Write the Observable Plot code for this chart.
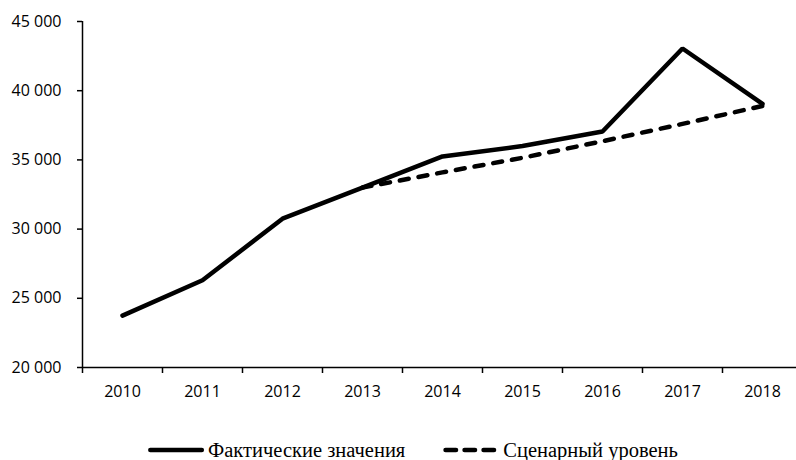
<!DOCTYPE html>
<html>
<head>
<meta charset="utf-8">
<script src="https://cdn.jsdelivr.net/npm/d3@7"></script>
<script src="https://cdn.jsdelivr.net/npm/@observablehq/plot@0.6"></script>
<style>
  html, body { margin: 0; padding: 0; background: #fff; }
  #chart svg, #legend svg { display: block; }
</style>
</head>
<body>
<div id="chart"></div>
<div id="legend"></div>
<script>
// Годы наблюдений
const years = [2010, 2011, 2012, 2013, 2014, 2015, 2016, 2017, 2018];
// Фактические значения
const actual = [23750, 26300, 30750, 33000, 35250, 36000, 37050, 43050, 39050];
// Сценарный уровень (с 2013 года)
const scenarioYears = [2013, 2014, 2015, 2016, 2017, 2018];
const scenario = [33000, 34100, 35150, 36350, 37600, 38900];
// Деления оси Y
const yTicks = [20000, 25000, 30000, 35000, 40000, 45000];

const seriesNames = ["Фактические значения", "Сценарный уровень"];

const sansFont = "'Open Sans', 'Liberation Sans', sans-serif";
const serifFont = "'Liberation Serif', Tinos, 'Times New Roman', Times, 'DejaVu Serif', serif";

const actualData = years.map((year, i) => ({year, value: actual[i]}));
const scenarioData = scenarioYears.map((year, i) => ({year, value: scenario[i]}));
// границы интервалов между годами — для засечек оси X
const boundaries = d3.range(years[0] - 0.5, years[years.length - 1] + 1, 1);

const fmt = d => d3.format(",")(d).replace(/,/g, " ");

const chart = Plot.plot({
  width: 796,
  height: 440,
  marginLeft: 82,
  marginRight: -6,
  marginTop: 21,
  marginBottom: 73,
  style: {fontFamily: sansFont, fontSize: "16px", color: "#000", background: "#fff", overflow: "visible"},
  x: {domain: [years[0] - 0.5, years[years.length - 1] + 0.5]},
  y: {domain: [20000, 45000]},
  marks: [
    Plot.axisY({ticks: yTicks, tickFormat: fmt, tickSize: 5, tickPadding: 16, label: null,
      fontFamily: sansFont, fontSize: 16, strokeWidth: 1.5}),
    Plot.axisX({ticks: boundaries, tickFormat: () => "", tickSize: 6, label: null, strokeWidth: 1.5}),
    Plot.axisX({ticks: years, tickFormat: d => String(d), tickSize: 0, tickPadding: 18, label: null,
      fontFamily: sansFont, fontSize: 16}),
    Plot.ruleY([20000], {stroke: "#000", strokeWidth: 1.5}),
    Plot.ruleX([years[0] - 0.5], {stroke: "#000", strokeWidth: 1.5}),
    Plot.line(scenarioData, {x: "year", y: "value", stroke: "#000", strokeWidth: 4.5,
      strokeDasharray: "9,10", strokeLinecap: "round"}),
    Plot.line(actualData, {x: "year", y: "value", stroke: "#000", strokeWidth: 4.5,
      strokeLinejoin: "miter", strokeLinecap: "round"})
  ]
});
document.getElementById("chart").appendChild(chart);

// Легенда под графиком
const W = 796, H = 20;
const leg = d3.select("#legend").append("svg").attr("width", W).attr("height", H);
const g = leg.append("g");
const items = [
  {name: seriesNames[0], dash: null},
  {name: seriesNames[1], dash: "10.5,8.5"}
];
const sample = 56, gapText = 4, gapItem = 38;
let x = 0;
items.forEach((it, i) => {
  if (i) x += gapItem;
  g.append("line").attr("x1", x + 2.25).attr("x2", x + sample - 2.25).attr("y1", 10).attr("y2", 10)
    .attr("stroke", "#000").attr("stroke-width", 4.5).attr("stroke-linecap", "round")
    .attr("stroke-dasharray", it.dash);
  x += sample + gapText;
  const t = g.append("text").attr("x", x).attr("y", 17)
    .attr("font-family", serifFont).attr("font-size", 20.5).attr("fill", "#000")
    .text(it.name);
  x += t.node().getComputedTextLength();
});
g.attr("transform", `translate(${(W - x) / 2 + 15},0)`);
</script>
</body>
</html>
